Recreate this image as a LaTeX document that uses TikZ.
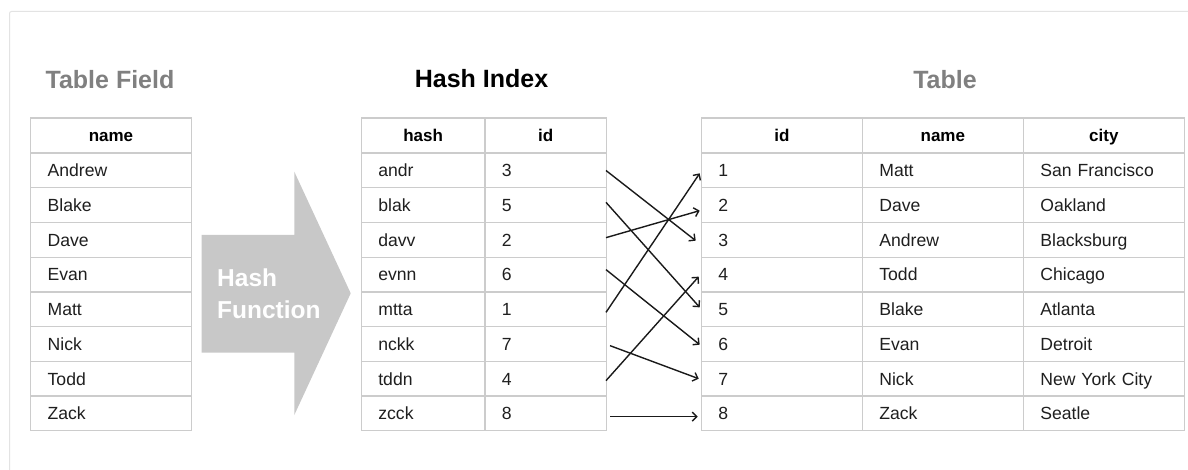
\documentclass[tikz,border=0pt]{standalone}
\usepackage{fontspec}
\setmainfont{Liberation Sans}
\usetikzlibrary{arrows.meta}
\definecolor{cellgray}{HTML}{CCCCCC}
\definecolor{framegray}{HTML}{E3E3E3}
\definecolor{titlegray}{HTML}{808080}
\definecolor{arrowgray}{HTML}{C8C8C8}
\definecolor{ink}{HTML}{1A1A1A}
\begin{document}
\begin{tikzpicture}[x=1pt,y=-1pt,
  cellbox/.style={draw=cellgray, line width=1.3pt, anchor=north west,
    minimum height=34.7pt, inner ysep=0pt, inner xsep=17pt,
    text height=12.6pt, text depth=0pt, text=black!88,
    font=\fontsize{17.6}{20}\selectfont},
  lcell/.style={cellbox, text width=#1, align=left},
  hcell/.style={cellbox, text width=#1, align=center, text=black,
    font=\fontsize{17}{20}\selectfont\bfseries},
  title/.style={font=\fontsize{25}{30}\selectfont\bfseries, anchor=base},
  link/.style={draw=ink, line width=1.4pt, -{Straight Barb[length=4.5pt,width=9pt]}},
  hftext/.style={anchor=base west, text=white, inner sep=0pt,
    font=\fontsize{24.5}{31}\selectfont\bfseries},
]
\useasboundingbox (0,0) rectangle (1188,470);
\fill[white] (0,0) rectangle (1188,470);
% outer frame
\draw[framegray, line width=1pt, rounded corners=2pt] (9.5,490) -- (9.5,11.5) -- (1210,11.5);

% titles
\node[title, text=titlegray] (t-field) at (110,88.5) {Table Field};
\node[title, text=black] (t-hash) at (481.5,88) {Hash Index};
\node[title, text=titlegray] (t-table) at (945,88.3) {Table};

% Table Field
\node[hcell=126.7pt] (tf-0) at (30,117.5) {name};
\foreach \k/\a in {1/Andrew,2/Blake,3/Dave,4/Evan,5/Matt,6/Nick,7/Todd,8/Zack}{
  \pgfmathsetmacro{\yy}{152.5+34.7*(\k-1)}
  \node[lcell=126.7pt] (tf-\k) at (30,\yy) {\a};
}

% Hash Index
\node[hcell=89.6pt] (hh-0) at (360.7,117.5) {hash};
\node[hcell=87.4pt] (hi-0) at (484.3,117.5) {id};
\foreach \k/\a/\b in {1/andr/3,2/blak/5,3/davv/2,4/evnn/6,5/mtta/1,6/nckk/7,7/tddn/4,8/zcck/8}{
  \pgfmathsetmacro{\yy}{152.5+34.7*(\k-1)}
  \node[lcell=89.6pt] (hh-\k) at (360.7,\yy) {\a};
  \node[lcell=87.4pt] (hi-\k) at (484.3,\yy) {\b};
}

% Table
\node[hcell=127pt] (ti-0) at (700.7,117.5) {id};
\node[hcell=127pt] (tn-0) at (861.7,117.5) {name};
\node[hcell=127pt] (tc-0) at (1022.7,117.5) {city};
\foreach \k/\a/\b in {1/Matt/San Francisco,2/Dave/Oakland,3/Andrew/Blacksburg,4/Todd/Chicago,5/Blake/Atlanta,6/Evan/Detroit,7/Nick/New York City,8/Zack/Seatle}{
  \pgfmathsetmacro{\yy}{152.5+34.7*(\k-1)}
  \node[lcell=127pt] (ti-\k) at (700.7,\yy) {\k};
  \node[lcell=127pt] (tn-\k) at (861.7,\yy) {\a};
  \node[lcell=127pt] (tc-\k) at (1022.7,\yy) {\b};
}

% hash function arrow
\fill[arrowgray] (201.7,235) -- (294.3,235) -- (294.3,171.7) -- (350.7,293.3)
  -- (294.3,415) -- (294.3,352.7) -- (201.7,352.7) -- cycle;
\node[hftext] (hf1) at (217,286.7) {Hash};
\node[hftext] (hf2) at (217,318) {Function};

% links
\draw[link] ([xshift=-1pt]hi-1.east) -- ([xshift=-5pt,yshift=-0.75pt]ti-3.west);
\draw[link] ([xshift=-1pt,yshift=2.85pt]hi-2.east) -- ([xshift=-1pt,yshift=1.95pt]ti-5.west);
\draw[link] ([xshift=-1pt,yshift=2.25pt]hi-3.east) -- ([xshift=-1pt,yshift=-5.45pt]ti-2.west);
\draw[link] ([xshift=-1pt,yshift=4.95pt]hi-4.east) -- ([xshift=-1pt,yshift=-0.65pt]ti-6.west);
\draw[link] ([xshift=-1pt,yshift=-3.05pt]hi-5.east) -- ([xshift=-1pt,yshift=-2.85pt]ti-1.west);
\draw[link] ([xshift=3pt,yshift=-1.65pt]hi-6.east) -- ([xshift=-2pt]ti-7.west);
\draw[link] ([xshift=-1pt,yshift=-1.95pt]hi-7.east) -- ([xshift=-2pt,yshift=-2.05pt]ti-4.west);
\draw[link] ([xshift=3pt,yshift=-3.25pt]hi-8.east) -- ([xshift=-3pt,yshift=-3.25pt]ti-8.west);
\end{tikzpicture}
\end{document}
